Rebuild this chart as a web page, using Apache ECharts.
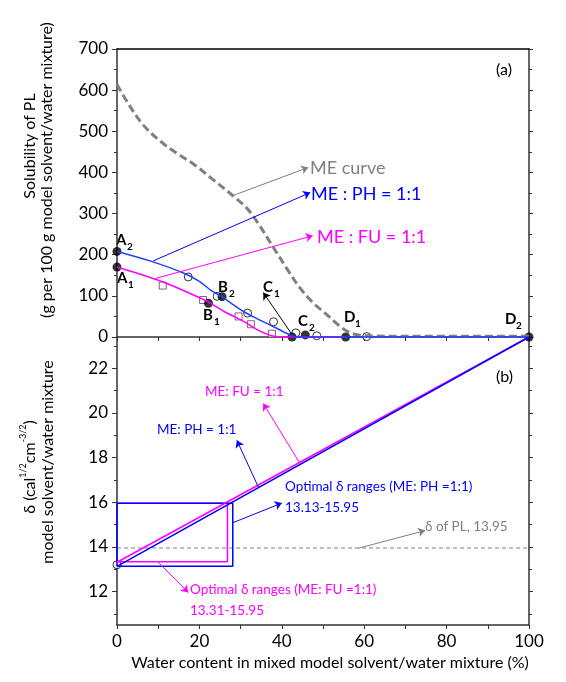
<!DOCTYPE html>
<html>
<head>
<meta charset="utf-8">
<script src="https://cdn.jsdelivr.net/npm/echarts@6/dist/echarts.min.js"></script>
<style>
html, body { margin: 0; padding: 0; background: #fff; }
#chart { width: 566px; height: 682px; }
</style>
</head>
<body>
<div id="chart"></div>
<script>
// panel (a): solubility of PL vs water content
var meCurveX = [0, 3, 6.4, 10.5, 14, 18.6, 23, 28.3, 31.6, 34, 37.5, 41.3, 44.5, 47.7, 50.5, 52.5, 54.3, 56, 58, 61, 65, 100];
var meCurveY = [614, 563, 515, 476, 450, 420, 385, 342, 312, 280, 225, 165, 118, 82, 58, 40, 25, 13, 6, 3, 2, 2];

var phCurveX = [0, 8, 16, 20, 23, 25.5, 28, 30.7, 33.5, 36.4, 39, 42, 43.5, 100];
var phCurveY = [208, 185, 156, 135, 112, 98, 80, 62, 47, 33, 20, 5, 0, 0];
var fuCurveX = [0, 9.7, 15, 21.8, 26, 30.7, 34, 36.4, 38.5, 40, 55.5];
var fuCurveY = [170, 139, 118, 87, 62, 38, 18, 7, 1, 0, 0];

var phPointX = [17.3, 24.3, 31.7, 38, 43.4, 48.5, 60.6];
var phPointY = [146, 99, 58, 37, 10, 3, 1];
var fuPointX = [11.1, 20.9, 29.5, 32.5, 37.6];
var fuPointY = [125, 90, 50, 31, 8];

// A2, A1, B2, B1, C1, C2, D1, D2
var keyX = [0, 0, 25.5, 22.2, 42.5, 45.7, 55.5, 100];
var keyY = [208, 170, 98, 82, 0, 5, 0, 0];

// panel (b): solubility parameter of mixture
var deltaX = [0, 100];
var deltaPH = [13.13, 23.4];
var deltaFU = [13.31, 23.4];
var plX = [0, 100];
var plY = [13.95, 13.95];
var phRangeX = [0, 28.1, 28.1, 0, 0];
var phRangeY = [13.13, 13.13, 15.95, 15.95, 13.13];
var fuRangeX = [0, 26.8, 26.8, 0];
var fuRangeY = [13.33, 13.33, 15.95, 15.95];

var yTicksB = [12, 14, 16, 18, 20, 22];
var yMinorB = [11, 13, 15, 17, 19, 21, 23];

var BLUE = '#0000ff', PINK = '#ff00ff', GRAY = '#808080';
var FONT = 'Lato, "Open Sans", sans-serif';

function pairs(xs, ys) {
  return xs.map(function (x, i) { return [x, ys[i]]; });
}

function arrows(list) {
  return {
    silent: true,
    animation: false,
    symbol: ['none', 'arrow'],
    symbolSize: 7,
    label: { show: false },
    emphasis: { disabled: true },
    data: list.map(function (a) {
      return [
        { coord: a[0], symbol: 'none', lineStyle: { color: a[2], width: 1, type: 'solid' }, itemStyle: { color: a[2] } },
        { coord: a[1], symbol: 'arrow', symbolSize: 7 }
      ];
    })
  };
}

function txt(s, x, y, color, size, extra) {
  var o = {
    type: 'text', x: x, y: y, silent: true,
    style: {
      text: s, fill: color, fontSize: size, fontFamily: FONT,
      align: 'left', verticalAlign: 'middle', textAlign: 'left', textVerticalAlign: 'middle'
    }
  };
  if (extra) {
    for (var k in extra) o.style[k] = extra[k];
  }
  return o;
}

function vtxt(s, x, y, rich) {
  var o = {
    type: 'text', x: x, y: y, rotation: Math.PI / 2, silent: true,
    style: {
      text: s, fill: '#000', fontSize: 16, fontFamily: FONT,
      align: 'center', verticalAlign: 'middle', textAlign: 'center', textVerticalAlign: 'middle'
    }
  };
  if (rich) o.style.rich = rich;
  return o;
}

function pointLabel(letter, sub, x, y) {
  return [
    txt(letter, x, y, '#000', 15, { fontWeight: 'bold' }),
    txt(sub, x + 11, y + 7, '#000', 10, { fontWeight: 'bold' })
  ];
}

var tickStyle = { color: '#333', width: 1 };
var axisLine = { onZero: false, lineStyle: { color: '#333', width: 1.5 } };

var chart = echarts.init(document.getElementById('chart'));

var graphics = [
  vtxt('Solubility of PL', 30, 146),
  vtxt('(g per 100 g model solvent/water mixture)', 47, 170),
  vtxt('{a|\u03b4 (cal}{s|1/2}{a|cm}{s|-3/2}{a|)}', 30, 467, {
    a: { fontSize: 16, fontFamily: FONT, lineHeight: 22, verticalAlign: 'middle' },
    s: { fontSize: 9, fontFamily: FONT, lineHeight: 10, verticalAlign: 'top' }
  }),
  vtxt('model solvent/water mixture', 48, 462),
  txt('Water content in mixed model solvent/water mixture (%)', 330, 663, '#000', 16,
      { align: 'center', textAlign: 'center' }),
  txt('ME curve', 310, 168, GRAY, 18),
  txt('ME : PH = 1:1', 311, 194, BLUE, 18),
  txt('ME : FU = 1:1', 317, 237, PINK, 18),
  txt('(a)', 496, 70, '#000', 16),
  txt('(b)', 496, 377, '#000', 16),
  txt('ME: FU = 1:1', 205, 392, PINK, 13.5),
  txt('ME: PH = 1:1', 157, 430, BLUE, 13.5),
  txt('Optimal \u03b4 ranges (ME: PH =1:1)', 285, 487, BLUE, 13.5),
  txt('13.13-15.95', 285, 508, BLUE, 13.5),
  txt('\u03b4 of PL, 13.95', 425, 527, GRAY, 13.5),
  txt('Optimal \u03b4 ranges (ME: FU =1:1)', 190, 590, PINK, 13.5),
  txt('13.31-15.95', 190, 611, PINK, 13.5)
].concat(
  pointLabel('A', '2', 116, 240),
  pointLabel('A', '1', 117, 278),
  pointLabel('B', '2', 218, 287),
  pointLabel('B', '1', 203, 315),
  pointLabel('C', '1', 263, 287),
  pointLabel('C', '2', 298, 321),
  pointLabel('D', '1', 344, 317),
  pointLabel('D', '2', 505, 319)
);

var option = {
  animation: false,
  backgroundColor: '#fff',
  textStyle: { fontFamily: FONT },
  grid: [
    { left: 117, right: 37, top: 49, height: 288 },
    { left: 117, right: 37, top: 337, height: 288 }
  ],
  xAxis: [
    {
      gridIndex: 0, type: 'value', min: 0, max: 100, interval: 20,
      axisLine: axisLine,
      axisTick: { show: true, length: 4, lineStyle: tickStyle },
      minorTick: { show: true, splitNumber: 2, length: 4, lineStyle: tickStyle },
      axisLabel: { show: false },
      splitLine: { show: false }
    },
    {
      gridIndex: 1, type: 'value', min: 0, max: 100, interval: 20,
      axisLine: axisLine,
      axisTick: { show: true, length: 4, lineStyle: tickStyle },
      minorTick: { show: true, splitNumber: 2, length: 4, lineStyle: tickStyle },
      axisLabel: { show: true, fontSize: 17, color: '#000', margin: 8, fontFamily: FONT },
      splitLine: { show: false }
    },
    {
      gridIndex: 0, type: 'value', position: 'top', min: 0, max: 100,
      axisLine: { onZero: false, lineStyle: { color: '#000', width: 1.5 } },
      axisTick: { show: false }, axisLabel: { show: false }, splitLine: { show: false }
    }
  ],
  yAxis: [
    {
      gridIndex: 0, type: 'value', min: 0, max: 700, interval: 100,
      axisLine: axisLine,
      axisTick: { show: true, length: 5, lineStyle: tickStyle },
      minorTick: { show: true, splitNumber: 2, length: 3, lineStyle: tickStyle },
      axisLabel: { fontSize: 17, color: '#000', margin: 9, fontFamily: FONT },
      splitLine: { show: false }
    },
    {
      gridIndex: 1, type: 'value', min: 10.5, max: 23.4,
      axisLine: axisLine,
      axisTick: { show: true, length: 5, lineStyle: tickStyle, customValues: yTicksB },
      axisLabel: { fontSize: 17, color: '#000', margin: 9, fontFamily: FONT, customValues: yTicksB },
      splitLine: { show: false }
    },
    {
      gridIndex: 0, type: 'value', position: 'right', min: 0, max: 700, interval: 100,
      axisLine: axisLine,
      axisTick: { show: true, length: 4, lineStyle: tickStyle },
      minorTick: { show: true, splitNumber: 2, length: 3, lineStyle: tickStyle },
      axisLabel: { show: false }, splitLine: { show: false }
    },
    {
      gridIndex: 1, type: 'value', position: 'right', min: 10.5, max: 23.4,
      axisLine: axisLine,
      axisTick: { show: true, length: 4, lineStyle: tickStyle, customValues: yTicksB },
      axisLabel: { show: false }, splitLine: { show: false }
    },
    {
      gridIndex: 1, type: 'value', position: 'left', min: 10.5, max: 23.4,
      axisLine: { show: false },
      axisTick: { show: true, length: 3, lineStyle: tickStyle, customValues: yMinorB },
      axisLabel: { show: false }, splitLine: { show: false }
    },
    {
      gridIndex: 1, type: 'value', position: 'right', min: 10.5, max: 23.4,
      axisLine: { show: false },
      axisTick: { show: true, length: 3, lineStyle: tickStyle, customValues: yMinorB },
      axisLabel: { show: false }, splitLine: { show: false }
    }
  ],
  graphic: graphics,
  series: [
    {
      name: 'ME curve', type: 'line', xAxisIndex: 0, yAxisIndex: 0, clip: false,
      data: pairs(meCurveX, meCurveY), smooth: 0.35, symbol: 'none',
      lineStyle: { color: GRAY, width: 3, type: [8, 4] },
      markLine: arrows([
        [[28.2, 344], [46.4, 412], GRAY],
        [[8.8, 185], [46.9, 351], BLUE],
        [[9.2, 142], [47.5, 246], PINK],
        [[42.4, 7], [35.5, 108], '#000']
      ])
    },
    {
      name: 'FU curve', type: 'line', xAxisIndex: 0, yAxisIndex: 0, clip: false,
      data: pairs(fuCurveX, fuCurveY), smooth: 0.3, symbol: 'none',
      lineStyle: { color: PINK, width: 1.5 }
    },
    {
      name: 'PH curve', type: 'line', xAxisIndex: 0, yAxisIndex: 0, clip: false,
      data: pairs(phCurveX, phCurveY), smooth: 0.3, symbol: 'none',
      lineStyle: { color: '#2040ff', width: 1.5 }
    },
    {
      name: 'PH data', type: 'scatter', xAxisIndex: 0, yAxisIndex: 0, clip: false,
      data: pairs(phPointX, phPointY), symbol: 'circle', symbolSize: 8,
      itemStyle: { color: '#fff', borderColor: '#000', borderWidth: 1 }
    },
    {
      name: 'FU data', type: 'scatter', xAxisIndex: 0, yAxisIndex: 0, clip: false,
      data: pairs(fuPointX, fuPointY), symbol: 'rect', symbolSize: 7,
      itemStyle: { color: '#fff', borderColor: '#7a2a7a', borderWidth: 1 }
    },
    {
      name: 'key points', type: 'scatter', xAxisIndex: 0, yAxisIndex: 0, clip: false,
      data: pairs(keyX, keyY), symbol: 'circle', symbolSize: 9,
      itemStyle: { color: '#000' }
    },
    {
      name: 'PL', type: 'line', xAxisIndex: 1, yAxisIndex: 1, clip: false,
      data: pairs(plX, plY), symbol: 'none',
      lineStyle: { color: GRAY, width: 1, type: [4, 3] },
      markLine: arrows([
        [[44.4, 17.74], [35.5, 20.42], PINK],
        [[34.3, 16.68], [29.1, 18.77], BLUE],
        [[28.1, 15.08], [40.0, 15.96], BLUE],
        [[58.6, 13.94], [74.8, 14.73], GRAY],
        [[10.0, 13.31], [17.3, 11.96], PINK]
      ])
    },
    {
      name: 'FU range', type: 'line', xAxisIndex: 1, yAxisIndex: 1, clip: false,
      data: pairs(fuRangeX, fuRangeY), symbol: 'none',
      lineStyle: { color: PINK, width: 1.5 }
    },
    {
      name: 'PH range', type: 'line', xAxisIndex: 1, yAxisIndex: 1, clip: false,
      data: pairs(phRangeX, phRangeY), symbol: 'none',
      lineStyle: { color: BLUE, width: 1.5 }
    },
    {
      name: 'FU delta', type: 'line', xAxisIndex: 1, yAxisIndex: 1, clip: false,
      data: pairs(deltaX, deltaFU), symbol: 'none',
      lineStyle: { color: PINK, width: 1.5 }
    },
    {
      name: 'PH delta', type: 'line', xAxisIndex: 1, yAxisIndex: 1, clip: false,
      data: pairs(deltaX, deltaPH), symbol: 'none',
      lineStyle: { color: BLUE, width: 1.5 }
    },
    {
      name: 'start', type: 'scatter', xAxisIndex: 1, yAxisIndex: 1, clip: false,
      data: [[0, 13.2]], symbol: 'circle', symbolSize: 8,
      itemStyle: { color: '#fff', borderColor: '#000', borderWidth: 1 }
    }
  ]
};

chart.setOption(option);
</script>
</body>
</html>
